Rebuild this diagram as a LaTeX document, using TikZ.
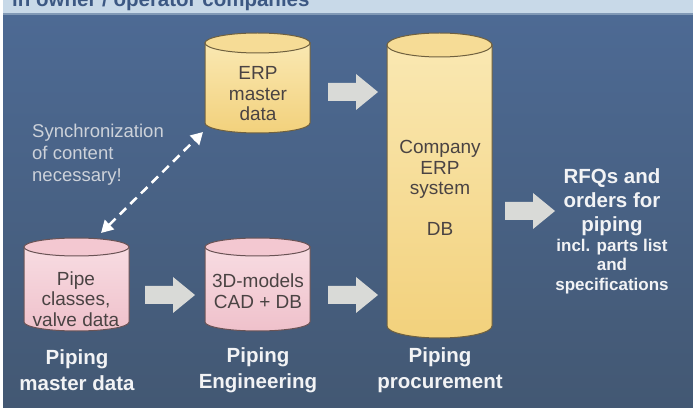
\documentclass[tikz,border=0pt]{standalone}
\usepackage{fontspec}
\setmainfont{Liberation Sans}
\usetikzlibrary{arrows.meta}
\definecolor{bgtop}{HTML}{4D6A94}
\definecolor{bgbot}{HTML}{435873}
\definecolor{hdr}{HTML}{C8D9E8}
\definecolor{hdrline}{HTML}{8199B6}
\definecolor{hdrtext}{HTML}{3C5883}
\definecolor{ylwtop}{HTML}{FAE8B2}
\definecolor{ylwbot}{HTML}{F2D17C}
\definecolor{ylwcap}{HTML}{F6DC96}
\definecolor{pinktop}{HTML}{F8DCE2}
\definecolor{pinkbot}{HTML}{EFC1CB}
\definecolor{pinkcap}{HTML}{F3C8D1}
\definecolor{ylwborder}{HTML}{6F603F}
\definecolor{pinkborder}{HTML}{6A5355}
\definecolor{cyltext}{HTML}{4A4343}
\definecolor{arrowgrey}{HTML}{D9DAD7}
\definecolor{synctext}{HTML}{CDD2DA}
\definecolor{labelwhite}{HTML}{F2F3F5}
\newcommand\mycyl[9]{%
  \pgfmathsetmacro\cylcx{(#1+#2)/2}%
  \pgfmathsetmacro\cylrx{(#2-#1)/2}%
  \pgfmathsetmacro\cylyt{#3-#5}%
  \pgfmathsetmacro\cylyb{#4+#5}%
  \path[draw=#9,line width=1pt,top color=#6,bottom color=#7]
    (#1,\cylyt) -- (#1,\cylyb) arc[start angle=180,end angle=360,x radius=\cylrx pt,y radius=#5 pt] -- (#2,\cylyt) -- cycle;
  \path[draw=#9,line width=1pt,fill=#8] (\cylcx,\cylyt) ellipse[x radius=\cylrx pt,y radius=#5 pt];
}
\newcommand\blockarrow[1]{%
  \fill[arrowgrey] (#1) ++(0,9) -- ++(28,0) -- ++(0,9) -- ++(22,-18) -- ++(-22,-18) -- ++(0,9) -- ++(-28,0) -- cycle;
}
\newcommand\smallrfq{\fontsize{17}{19.5}\selectfont}
\begin{document}
\begin{tikzpicture}[x=1pt,y=1pt,
  cyltxt/.style={text=cyltext, align=center, font=\fontsize{19}{20.5}\selectfont, inner sep=0pt},
  lbl/.style={text=labelwhite, align=center, font=\bfseries\fontsize{20.5}{26}\selectfont, inner sep=0pt},
  cylbox/.style={inner sep=0pt, draw=none}
]
\useasboundingbox (0,0) rectangle (693,407);
\clip (0,0) rectangle (693,407);
% background
\fill[white] (0,0) rectangle (693,407);
\fill[top color=bgtop,bottom color=bgbot] (3,0) rectangle (693,392);
\fill[hdr] (3,393) rectangle (693,407);
\fill[hdrline] (3,392) rectangle (693,393.5);
\node[anchor=base west, inner sep=0pt, text=hdrtext, font=\bfseries\fontsize{20.5}{22}\selectfont] (title) at (12,400.5) {in owner / operator companies};

% cylinders
\mycyl{205}{310}{374}{274}{10}{ylwtop}{ylwbot}{ylwcap}{ylwborder}
\mycyl{387}{492}{374}{69}{12}{ylwtop}{ylwbot}{ylwcap}{ylwborder}
\mycyl{24}{129}{169}{76}{9}{pinktop}{pinkbot}{pinkcap}{pinkborder}
\mycyl{205}{310}{169}{76}{9}{pinktop}{pinkbot}{pinkcap}{pinkborder}
\node[cylbox, minimum width=105pt, minimum height=100pt] (erpm) at (257.5,324) {};
\node[cylbox, minimum width=105pt, minimum height=305pt] (comp) at (439.5,221.5) {};
\node[cylbox, minimum width=105pt, minimum height=93pt] (pipe) at (76.5,122.5) {};
\node[cylbox, minimum width=105pt, minimum height=93pt] (cad) at (257.5,122.5) {};

% cylinder texts
\node[cyltxt] (terpm) at (258,313) {ERP\\master\\data};
\node[cyltxt] (tcomp) at (440,219) {Company\\ERP\\system\\[20.5pt]DB};
\node[cyltxt] (tpipe) at (76,108) {Pipe\\classes,\\valve data};
\node[cyltxt] (tcad) at (258,116) {3D-models\\CAD + DB};

% block arrows
\coordinate (a1) at (328,315);
\coordinate (a2) at (145,112);
\coordinate (a3) at (328,112);
\coordinate (a4) at (505,196);
\blockarrow{a1}
\blockarrow{a2}
\blockarrow{a3}
\blockarrow{a4}

% sync arrow
\coordinate (sa) at (101,174);
\coordinate (sb) at (203,275);
\draw[white, line width=2.6pt, dash pattern=on 9pt off 6pt,
  {Triangle[length=12pt,width=13pt]}-{Triangle[length=12pt,width=13pt]}] (sa) -- (sb);
\node[anchor=west, text=synctext, align=left, inner sep=0pt,
  font=\fontsize{18.5}{22}\selectfont] (sync) at (32,252) {Synchronization\\of content\\necessary!};

% bottom labels
\node[lbl] (l1) at (77,37) {Piping\\master data};
\node[lbl] (l2) at (258,37) {Piping\\Engineering};
\node[lbl] (l3) at (440,37) {Piping\\procurement};

% RFQ text
\node[text=labelwhite, align=center, inner sep=0pt, font=\bfseries\fontsize{20.5}{24}\selectfont] (rfq) at (612,176)
  {RFQs and\\orders for\\piping\\[-4pt]\smallrfq incl. parts list\\[-4.5pt]\smallrfq and\\[-4.5pt]\smallrfq specifications};
\end{tikzpicture}
\end{document}
